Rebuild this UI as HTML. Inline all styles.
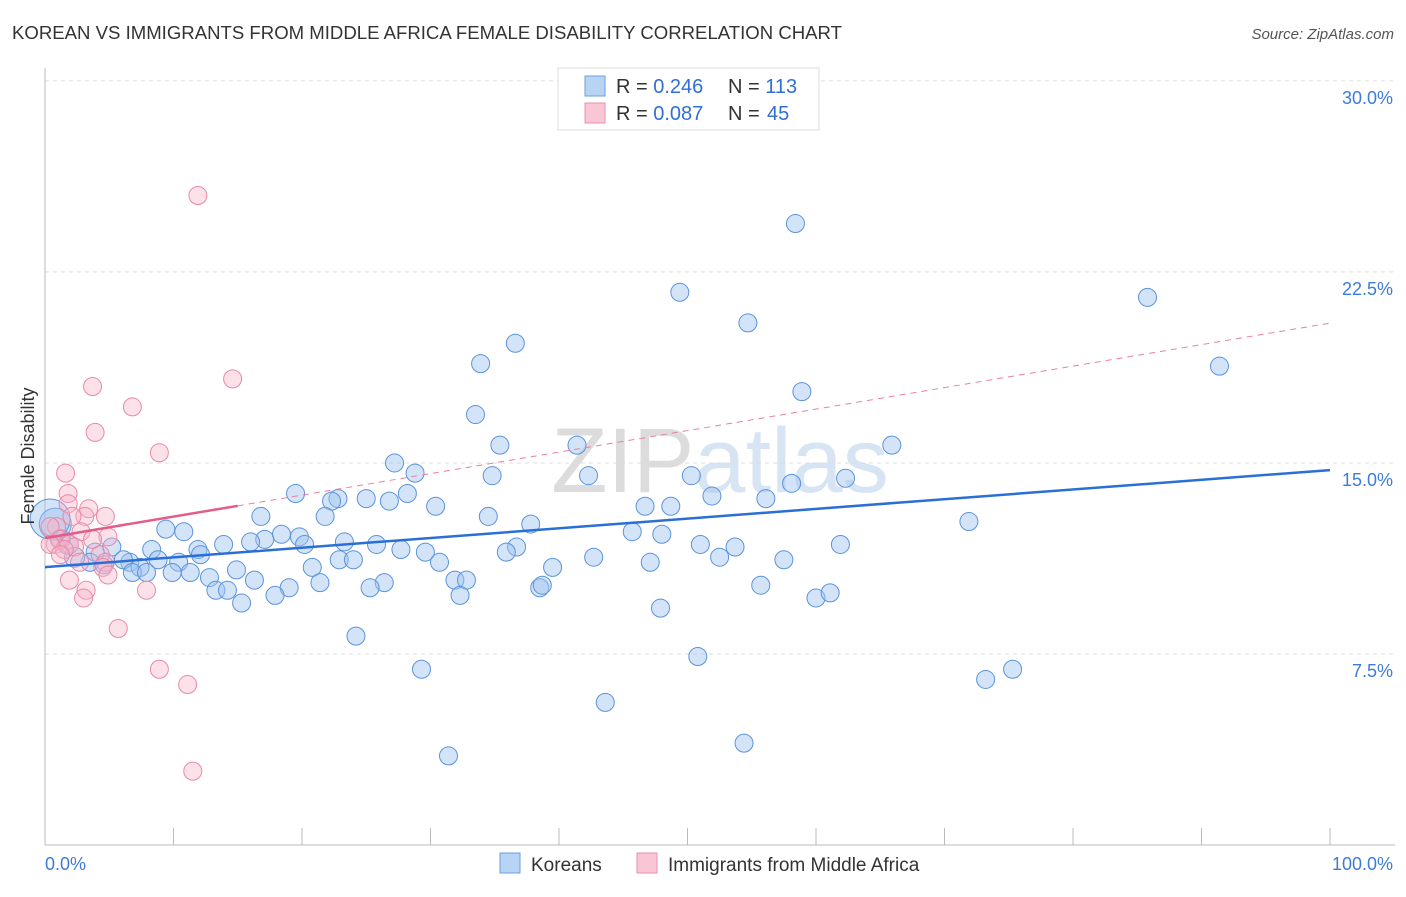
<!DOCTYPE html>
<html><head><meta charset="utf-8"><style>
body{margin:0;background:#fff;font-family:"Liberation Sans",sans-serif}
svg text{font-family:"Liberation Sans",sans-serif}
</style></head><body>
<svg id="chart" width="1406" height="892" xmlns="http://www.w3.org/2000/svg">
<text x="12" y="39" font-size="18" fill="#333" textLength="830" lengthAdjust="spacingAndGlyphs">KOREAN VS IMMIGRANTS FROM MIDDLE AFRICA FEMALE DISABILITY CORRELATION CHART</text>
<text x="1394" y="39" font-size="15" fill="#555" text-anchor="end" font-style="italic">Source: ZipAtlas.com</text>
<text x="720" y="492" font-size="92" fill="#e4e4e4" text-anchor="middle" font-family="Liberation Serif"><tspan fill="#dcdcdc">ZIP</tspan><tspan fill="#d6e4f3" font-family="Liberation Sans">atlas</tspan></text>
<g id="grid"></g>
<g id="axes"></g>
<g id="marks"></g>
<g id="trends"></g>
<text transform="translate(34,456) rotate(-90)" font-size="18" fill="#333" text-anchor="middle">Female Disability</text>
<g>
<rect x="558" y="68" width="261" height="62" fill="#fff" stroke="#ddd"/>
<rect x="585" y="76" width="20" height="20" fill="#b8d4f5" stroke="#6b9ee0"/>
<rect x="585" y="103" width="20" height="20" fill="#f9c6d6" stroke="#e890ad"/>
<text x="616" y="93" font-size="20" fill="#333">R = <tspan fill="#2f6fd6">0.246</tspan></text>
<text x="728" y="93" font-size="20" fill="#333">N = <tspan fill="#2f6fd6">113</tspan></text>
<text x="616" y="120" font-size="20" fill="#333">R = <tspan fill="#2f6fd6">0.087</tspan></text>
<text x="728" y="120" font-size="20" fill="#333">N = <tspan fill="#2f6fd6" x="767">45</tspan></text>
</g>
<g>
<rect x="500" y="853" width="20" height="20" fill="#b8d4f5" stroke="#6b9ee0"/>
<text x="531" y="871" font-size="19" fill="#333">Koreans</text>
<rect x="637" y="853" width="20" height="20" fill="#f9c6d6" stroke="#e890ad"/>
<text x="668" y="871" font-size="19" fill="#333">Immigrants from Middle Africa</text>
</g>
</svg>
<script>
const yTicks=[7.5,15,22.5,30];
const yTickLabels=["7.5%","15.0%","22.5%","30.0%"];
const xTickLabels=["0.0%","100.0%"];
const koreanX=[49.4,58.4,85.8,91.4,54.7,36.6,33.9,58.9,33.5,35.4,41.4,65.9,27.2,28.8,34.8,42.3,50.3,58.1,62.3,19.5,28.2,22.8,25.0,26.8,22.3,51.9,56.1,30.4,46.7,48.7,16.8,21.8,34.5,37.8,45.7,48.0,71.9,9.4,10.8,18.4,17.1,19.8,20.2,13.9,16.0,23.3,25.8,27.7,29.6,36.7,35.9,51.0,53.7,61.9,11.9,8.3,5.2,3.9,12.1,8.8,10.4,20.8,22.9,24.0,30.7,39.5,42.7,47.1,52.5,57.5,6.6,6.1,7.4,3.5,4.6,6.8,7.9,9.9,11.3,14.9,12.8,16.3,19.0,21.4,26.4,31.9,32.8,38.5,38.7,55.7,13.3,14.2,25.3,17.9,32.3,15.3,60.0,61.1,47.9,24.2,50.8,29.3,73.2,75.3,43.6,54.4,31.4,1.2,1.8,2.3,0.8,0.4];
const koreanY=[21.7,24.4,21.5,18.8,20.5,19.7,18.9,17.8,16.9,15.7,15.7,15.7,15.0,14.6,14.5,14.5,14.5,14.2,14.4,13.8,13.8,13.6,13.6,13.5,13.5,13.7,13.6,13.3,13.3,13.3,12.9,12.9,12.9,12.6,12.3,12.2,12.7,12.4,12.3,12.2,12.0,12.1,11.8,11.8,11.9,11.9,11.8,11.6,11.5,11.7,11.5,11.8,11.7,11.8,11.6,11.6,11.7,11.5,11.4,11.2,11.1,10.9,11.2,11.2,11.1,10.9,11.3,11.1,11.3,11.2,11.1,11.2,10.9,11.1,11.0,10.7,10.7,10.7,10.7,10.8,10.5,10.4,10.1,10.3,10.3,10.4,10.4,10.1,10.2,10.2,10.0,10.0,10.1,9.8,9.8,9.5,9.7,9.9,9.3,8.2,7.4,6.9,6.5,6.9,5.6,4.0,3.5,12.0,11.8,11.3,12.6,12.8];
const koreanR=[9,9,9,9,9,9,9,9,9,9,9,9,9,9,9,9,9,9,9,9,9,9,9,9,9,9,9,9,9,9,9,9,9,9,9,9,9,9,9,9,9,9,9,9,9,9,9,9,9,9,9,9,9,9,9,9,9,9,9,9,9,9,9,9,9,9,9,9,9,9,9,9,9,9,9,9,9,9,9,9,9,9,9,9,9,9,9,9,9,9,9,9,9,9,9,9,9,9,9,9,9,9,9,9,9,9,9,10,10,10,16,20];
const africaX=[11.9,14.6,3.7,6.8,3.9,8.9,1.6,1.8,3.4,1.8,4.7,3.1,2.1,0.9,0.4,2.8,4.9,3.7,1.2,0.8,1.9,2.3,1.5,4.3,2.7,4.7,4.5,4.9,1.9,3.2,3.0,7.9,5.7,8.9,11.1,11.5,0.4,1.2];
const africaY=[25.5,18.3,18.0,17.2,16.2,15.4,14.6,13.8,13.2,13.4,12.9,12.9,12.9,12.5,12.5,12.3,12.1,12.0,12.0,11.8,11.8,11.7,11.6,11.4,11.1,11.1,10.9,10.6,10.4,10.0,9.7,10.0,8.5,6.9,6.3,2.9,11.8,11.4];
const koreanTrend=[10.91,14.72];
const africaTrend=[12.05,20.49];
const africaSolidEnd=15;
const NS="http://www.w3.org/2000/svg";
const X=v=>45+v*12.85, Y=v=>845-v*25.47;
function mk(p,tag,a){const e=document.createElementNS(NS,tag);for(const k in a)e.setAttribute(k,a[k]);document.getElementById(p).appendChild(e);return e;}
yTicks.forEach((t,i)=>{
 const g=mk('grid','line',{x1:45,x2:1395,y1:Y(t),y2:Y(t),stroke:'#ddd','stroke-dasharray':'4,4'});
 
 
 const l=mk('axes','text',{x:1393,y:Y(t)+23,'text-anchor':'end','font-size':18,fill:'#3d7bd8'});
 l.textContent=yTickLabels[i];
 
 
});
mk('axes','line',{x1:45,x2:45,y1:68,y2:845,stroke:'#bbb'});
mk('axes','line',{x1:45,x2:1395,y1:845,y2:845,stroke:'#bbb'});
for(let i=0;i<=10;i++){const t=mk('axes','line',{x1:X(i*10),x2:X(i*10),y1:828,y2:845,stroke:'#bbb'});
 
 }
const xl0=mk('axes','text',{x:45,y:870,'font-size':18,fill:'#3d7bd8'});xl0.textContent=xTickLabels[0];


const xl1=mk('axes','text',{x:1393,y:870,'font-size':18,fill:'#3d7bd8','text-anchor':'end'});xl1.textContent=xTickLabels[1];


koreanX.forEach((v,i)=>{const c=mk('marks','circle',{cx:X(v),cy:Y(koreanY[i]),r:koreanR[i],fill:'rgba(160,196,240,0.45)',stroke:'#5b93dc','stroke-width':1});
 
 });
africaX.forEach((v,i)=>{const c=mk('marks','circle',{cx:X(v),cy:Y(africaY[i]),r:9,fill:'rgba(247,180,200,0.4)',stroke:'#e889a8','stroke-width':1});
 
 });
const kt=mk('trends','line',{x1:X(0),y1:Y(koreanTrend[0]),x2:X(100),y2:Y(koreanTrend[1]),stroke:'#2a6fd6','stroke-width':2.5});


const aAt=x=>africaTrend[0]+(africaTrend[1]-africaTrend[0])*x/100;
const ad=mk('trends','line',{x1:X(africaSolidEnd),y1:Y(aAt(africaSolidEnd)),x2:X(100),y2:Y(africaTrend[1]),stroke:'#e6829f','stroke-width':1,'stroke-dasharray':'6,5'});


const as=mk('trends','line',{x1:X(0),y1:Y(africaTrend[0]),x2:X(africaSolidEnd),y2:Y(aAt(africaSolidEnd)),stroke:'#e35d88','stroke-width':2.5});


</script>
</body></html>
